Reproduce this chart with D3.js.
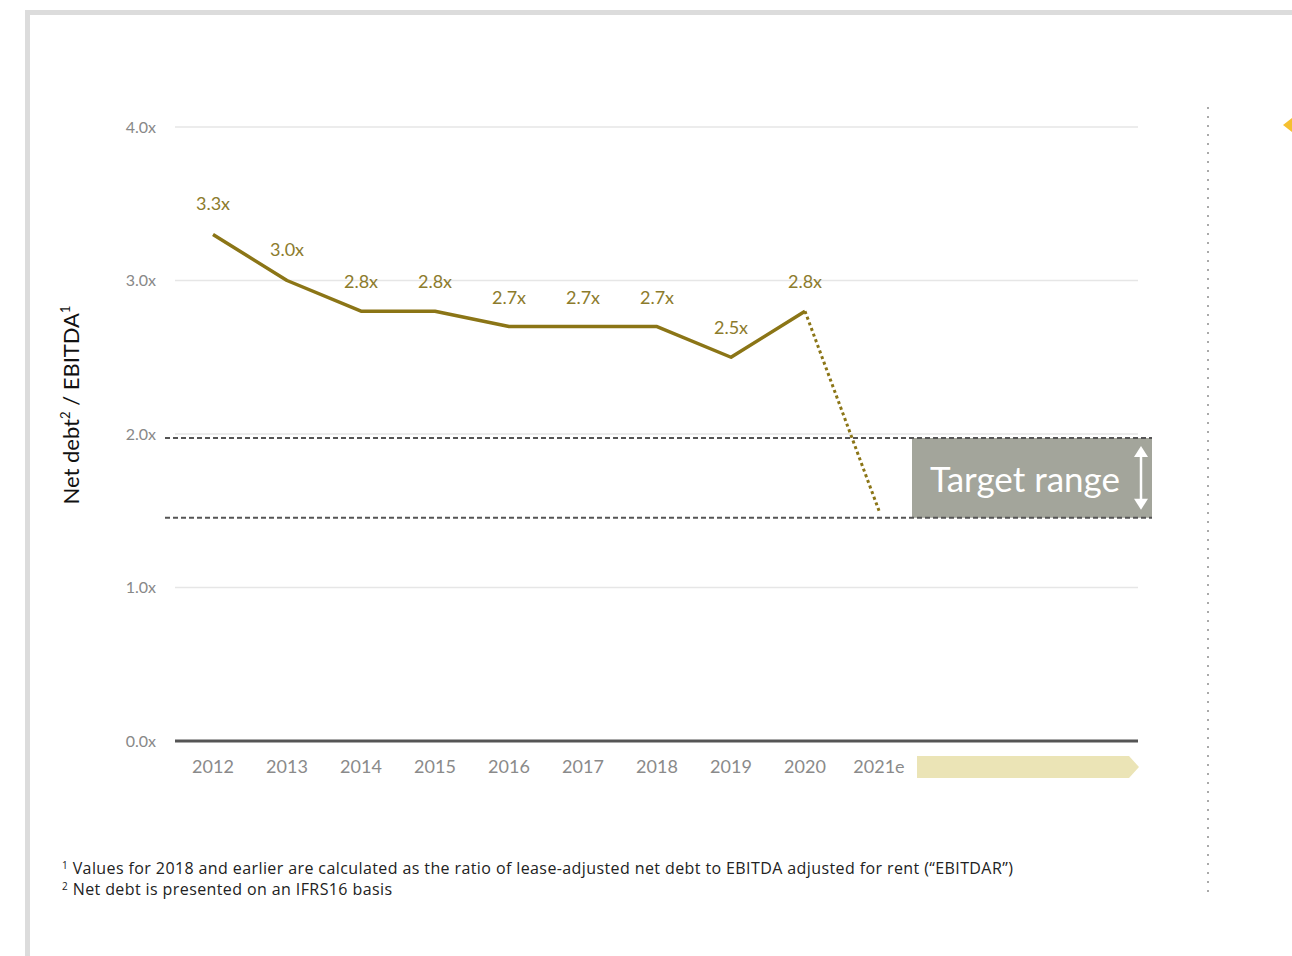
<!DOCTYPE html>
<html>
<head>
<meta charset="utf-8">
<script src="https://cdn.jsdelivr.net/npm/d3@7"></script>
<style>
  body { margin: 0; background: #fff; font-family: Lato, "Open Sans", sans-serif; }
  svg { display: block; }
</style>
</head>
<body>
<svg id="chart" width="1292" height="956"></svg>
<script>
// chart data
var years = ["2012", "2013", "2014", "2015", "2016", "2017", "2018", "2019", "2020", "2021e"];
var ratios = [3.3, 3.0, 2.8, 2.8, 2.7, 2.7, 2.7, 2.5, 2.8];
var forecast = [{year: "2020", value: 2.8}, {year: "2021e", value: 1.5}];
var targetRange = [1.5, 2.0];
var yTicks = [0, 1, 2, 3, 4];
var footnotes = [
  ["1", "Values for 2018 and earlier are calculated as the ratio of lease-adjusted net debt to EBITDA adjusted for rent (\u201CEBITDAR\u201D)"],
  ["2", "Net debt is presented on an IFRS16 basis"]
];

var svg = d3.select("#chart");
var gold = "#8b7516", labelGold = "#8c7b2c";

// frame
svg.append("rect").attr("x", 27.5).attr("y", 12.5).attr("width", 1300).attr("height", 1000)
  .attr("fill", "none").attr("stroke", "#dcdcdc").attr("stroke-width", 5);

var margin = {left: 175, right: 154, top: 127, bottom: 215};
var width = 1292 - margin.left - margin.right,
    height = 956 - margin.top - margin.bottom;
var g = svg.append("g").attr("transform", "translate(" + margin.left + "," + margin.top + ")");

var x = d3.scalePoint().domain(years).range([38, 704]);
var y = d3.scaleLinear().domain([0, 4]).range([height, 0]);

// gridlines + y labels
g.append("g").selectAll("line").data(yTicks.slice(1)).enter().append("line")
  .attr("x1", 0).attr("x2", width)
  .attr("y1", function(d) { return y(d); }).attr("y2", function(d) { return y(d); })
  .attr("stroke", "#e6e6e6").attr("stroke-width", 1.5);

g.append("g").selectAll("text").data(yTicks).enter().append("text")
  .attr("x", -19).attr("y", function(d) { return y(d); }).attr("dy", "0.35em")
  .attr("text-anchor", "end").attr("fill", "#888").style("font-size", "16px")
  .text(function(d) { return d.toFixed(1) + "x"; });

// target range box
var boxX = 737, boxW = 240;
var yTop = y(targetRange[1]) + 4, yBot = y(targetRange[0]) + 7;
g.append("rect").attr("x", boxX).attr("y", yTop)
  .attr("width", boxW).attr("height", yBot - yTop)
  .attr("fill", "#a3a59b");
g.append("text").attr("x", boxX + 113).attr("y", (yTop + yBot) / 2 + 2)
  .attr("dy", "0.35em").attr("text-anchor", "middle").attr("fill", "#fff")
  .style("font-size", "35px").text("Target range");
var ax = boxX + 229, ay1 = yTop + 8, ay2 = yBot - 8;
g.append("line").attr("x1", ax).attr("x2", ax).attr("y1", ay1 + 6).attr("y2", ay2 - 6)
  .attr("stroke", "#fff").attr("stroke-width", 2.5);
g.append("path").attr("d", "M" + (ax - 7) + "," + (ay1 + 11) + "L" + ax + "," + ay1 + "L" + (ax + 7) + "," + (ay1 + 11) + "Z")
  .attr("fill", "#fff");
g.append("path").attr("d", "M" + (ax - 7) + "," + (ay2 - 11) + "L" + ax + "," + ay2 + "L" + (ax + 7) + "," + (ay2 - 11) + "Z")
  .attr("fill", "#fff");

// dashed target lines
g.append("g").selectAll("line").data([yTop, yBot]).enter().append("line")
  .attr("x1", -10).attr("x2", boxX + boxW)
  .attr("y1", function(d) { return d; }).attr("y2", function(d) { return d; })
  .attr("stroke", "#555").attr("stroke-width", 2).attr("stroke-dasharray", "5,3");

// x axis line
g.append("line").attr("x1", 0).attr("x2", width).attr("y1", height).attr("y2", height)
  .attr("stroke", "#555").attr("stroke-width", 3);

g.append("g").selectAll("text").data(years).enter().append("text")
  .attr("x", function(d) { return x(d); }).attr("y", height + 32)
  .attr("text-anchor", "middle").attr("fill", "#8a8a8a").style("font-size", "18px")
  .text(function(d) { return d; });

// forecast band arrow
var bx = 742, by = height + 15, bw = 222, bh = 22;
g.append("path")
  .attr("d", "M" + bx + "," + by + "H" + (bx + bw - 10) + "L" + (bx + bw) + "," + (by + bh / 2) +
    "L" + (bx + bw - 10) + "," + (by + bh) + "H" + bx + "Z")
  .attr("fill", "#ebe4b6");

// line
var actual = ratios.map(function(v, i) { return {year: years[i], value: v}; });
var line = d3.line().x(function(d) { return x(d.year); }).y(function(d) { return y(d.value); });

g.append("path").datum(actual).attr("d", line)
  .attr("fill", "none").attr("stroke", gold).attr("stroke-width", 3.5).attr("stroke-linejoin", "round");
g.append("path").datum(forecast).attr("d", line)
  .attr("fill", "none").attr("stroke", gold).attr("stroke-width", 3).attr("stroke-dasharray", "3,3");

// value labels
g.append("g").selectAll("text").data(actual).enter().append("text")
  .attr("x", function(d) { return x(d.year); })
  .attr("y", function(d, i) { return y(d.value) - (i === 0 ? 24 : i === 1 ? 25 : 23); })
  .attr("text-anchor", "middle").attr("fill", labelGold).style("font-size", "18px")
  .text(function(d) { return d.value.toFixed(1) + "x"; });

// y title
svg.append("text").attr("transform", "translate(79,405) rotate(-90)")
  .attr("text-anchor", "middle").attr("fill", "#111").style("font-size", "22px")
  .html('Net debt<tspan dy="-9" font-size="13">2</tspan><tspan dy="9"> / EBITDA</tspan><tspan dy="-9" font-size="13">1</tspan>');

// footnotes
var fn = svg.append("g").selectAll("text").data(footnotes).enter().append("text")
  .attr("x", 62).attr("y", function(d, i) { return 874 + i * 21; })
  .attr("fill", "#222").style("font-size", "16px").style("letter-spacing", "0.4px")
  .style("font-family", "'Open Sans', sans-serif");
fn.append("tspan").attr("font-size", "10").attr("dy", "-5").text(function(d) { return d[0]; });
fn.append("tspan").attr("dy", "5").text(function(d) { return " " + d[1]; });

// divider and corner marker
svg.append("line").attr("x1", 1208).attr("x2", 1208).attr("y1", 107).attr("y2", 893)
  .attr("stroke", "#aaa").attr("stroke-width", 2).attr("stroke-dasharray", "2,7");
svg.append("path").attr("d", "M1283,125 L1292,118 L1292,132 Z").attr("fill", "#f5c030");
</script>
</body>
</html>
